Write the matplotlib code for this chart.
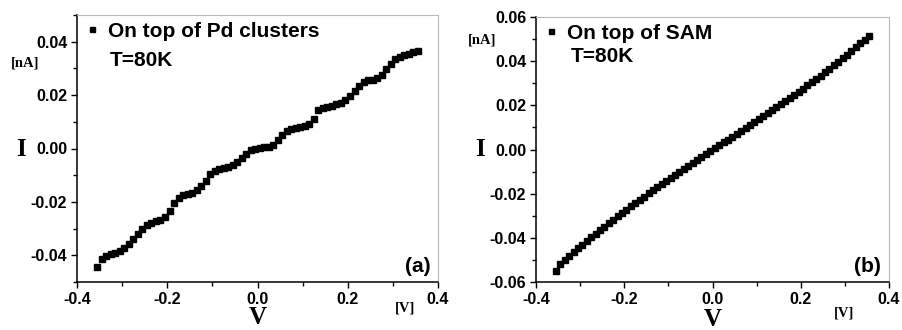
import matplotlib
matplotlib.use("Agg")
import matplotlib.pyplot as plt
from matplotlib.ticker import MultipleLocator

plt.rcParams["font.family"] = ["Liberation Sans", "DejaVu Sans"]

# bias voltage [V], same sweep for both panels
voltage = [
    -0.355, -0.345, -0.335, -0.325, -0.315, -0.305, -0.295, -0.285, -0.275, -0.265,
    -0.255, -0.245, -0.235, -0.225, -0.215, -0.205, -0.195, -0.185, -0.175, -0.165,
    -0.155, -0.145, -0.135, -0.125, -0.115, -0.105, -0.095, -0.085, -0.075, -0.065,
    -0.055, -0.045, -0.035, -0.025, -0.015, -0.005, 0.005, 0.015, 0.025, 0.035,
    0.045, 0.055, 0.065, 0.075, 0.085, 0.095, 0.105, 0.115, 0.125, 0.135,
    0.145, 0.155, 0.165, 0.175, 0.185, 0.195, 0.205, 0.215, 0.225, 0.235,
    0.245, 0.255, 0.265, 0.275, 0.285, 0.295, 0.305, 0.315, 0.325, 0.335,
    0.345, 0.355,
]

# (a) current on top of Pd clusters [nA]
current_pd = [
    -0.0443, -0.0413, -0.0401, -0.0395, -0.0390, -0.0383, -0.0373, -0.0358, -0.0340, -0.0320,
    -0.0302, -0.0287, -0.0278, -0.0270, -0.0266, -0.0255, -0.0235, -0.0203, -0.0185, -0.0175,
    -0.0170, -0.0165, -0.0155, -0.0140, -0.0120, -0.0097, -0.0085, -0.0077, -0.0072, -0.0068,
    -0.0062, -0.0050, -0.0035, -0.0020, -0.0007, 0.0000, 0.0003, 0.0004, 0.0006, 0.0013,
    0.0030, 0.0050, 0.0064, 0.0072, 0.0076, 0.0079, 0.0084, 0.0092, 0.0112, 0.0145,
    0.0150, 0.0155, 0.0160, 0.0165, 0.0171, 0.0181, 0.0196, 0.0215, 0.0234, 0.0250,
    0.0256, 0.0257, 0.0263, 0.0275, 0.0297, 0.0318, 0.0335, 0.0344, 0.0350, 0.0355,
    0.0360, 0.0367,
]

# (b) current on top of SAM [nA]
current_sam = [
    -0.0548, -0.0518, -0.0500, -0.0482, -0.0465, -0.0448, -0.0431, -0.0414, -0.0397, -0.0381,
    -0.0365, -0.0349, -0.0333, -0.0318, -0.0302, -0.0287, -0.0272, -0.0257, -0.0242, -0.0228,
    -0.0213, -0.0199, -0.0185, -0.0171, -0.0157, -0.0143, -0.0129, -0.0115, -0.0101, -0.0088,
    -0.0074, -0.0061, -0.0047, -0.0034, -0.0020, -0.0007, 0.0006, 0.0019, 0.0032, 0.0045,
    0.0058, 0.0071, 0.0084, 0.0097, 0.0111, 0.0124, 0.0137, 0.0151, 0.0164, 0.0178,
    0.0191, 0.0205, 0.0219, 0.0233, 0.0247, 0.0261, 0.0276, 0.0291, 0.0305, 0.0320,
    0.0335, 0.0351, 0.0366, 0.0382, 0.0398, 0.0414, 0.0430, 0.0447, 0.0464, 0.0481,
    0.0498, 0.0515,
]

W, H = 902, 330


def fx(px):
    return px / W


def fy(py):
    return 1 - py / H


def style_axes(ax, ylim, ymajor):
    ax.set_xlim(-0.4, 0.4)
    ax.set_ylim(*ylim)
    ax.xaxis.set_major_locator(MultipleLocator(0.2))
    ax.xaxis.set_minor_locator(MultipleLocator(0.1))
    ax.yaxis.set_major_locator(MultipleLocator(ymajor))
    ax.yaxis.set_minor_locator(MultipleLocator(0.01))
    ax.xaxis.set_major_formatter(plt.FuncFormatter(lambda v, p: f"{v:.1f}"))
    ax.yaxis.set_major_formatter(plt.FuncFormatter(lambda v, p: f"{v:.2f}"))
    ax.tick_params(which="both", direction="out", top=False, right=False, width=1)
    ax.tick_params(which="major", length=4, labelsize=11.5, pad=3)
    ax.tick_params(which="minor", length=3)
    for lab in ax.get_xticklabels() + ax.get_yticklabels():
        lab.set_fontweight("bold")
    for side in ("left", "bottom"):
        ax.spines[side].set_linewidth(1.1)
    for side in ("top", "right"):
        ax.spines[side].set_color("#b8b8b8")
        ax.spines[side].set_linewidth(0.8)


fig = plt.figure(figsize=(W / 100, H / 100), dpi=100)
ax_a = fig.add_axes([fx(77), fy(282), fx(438) - fx(77), fy(15) - fy(282)])
ax_b = fig.add_axes([fx(536), fy(282), fx(889) - fx(536), fy(17) - fy(282)])

ax_a.plot(voltage, current_pd, "s", color="black", ms=4, label="On top of Pd clusters")
ax_b.plot(voltage, current_sam, "s", color="black", ms=4, label="On top of SAM")

style_axes(ax_a, (-0.05, 0.05), 0.02)
ax_a.set_yticks([-0.04, -0.02, 0.0, 0.02, 0.04])
style_axes(ax_b, (-0.06, 0.06), 0.02)

for ax in (ax_a, ax_b):
    ax.legend(loc="upper left", bbox_to_anchor=(0.012, 0.975), frameon=False,
              borderpad=0, borderaxespad=0, handlelength=1.0, handletextpad=0.3,
              markerscale=0.9, prop={"size": 15, "weight": "bold"})

bold = dict(fontweight="bold")
serif = dict(family=["Liberation Serif", "DejaVu Serif"], fontweight="bold")

fig.text(fx(110), fy(60), "T=80K", fontsize=15, ha="left", va="center", **bold)
fig.text(fx(571), fy(56), "T=80K", fontsize=15, ha="left", va="center", **bold)
fig.text(fx(431), fy(267), "(a)", fontsize=15, ha="right", va="center", **bold)
fig.text(fx(881), fy(266), "(b)", fontsize=15, ha="right", va="center", **bold)

fig.text(fx(21), fy(149), "I", fontsize=18, ha="center", va="center", **serif)
fig.text(fx(25), fy(63), "[nA]", fontsize=10.5, ha="center", va="center", **serif)
fig.text(fx(258), fy(318), "V", fontsize=18, ha="center", va="center", **serif)
fig.text(fx(405), fy(308), "[V]", fontsize=10.5, ha="center", va="center", **serif)

fig.text(fx(480), fy(149), "I", fontsize=18, ha="center", va="center", **serif)
fig.text(fx(482), fy(40), "[nA]", fontsize=10.5, ha="center", va="center", **serif)
fig.text(fx(713), fy(319), "V", fontsize=18, ha="center", va="center", **serif)
fig.text(fx(844), fy(313), "[V]", fontsize=10.5, ha="center", va="center", **serif)

fig.savefig("out.png", dpi=100)
